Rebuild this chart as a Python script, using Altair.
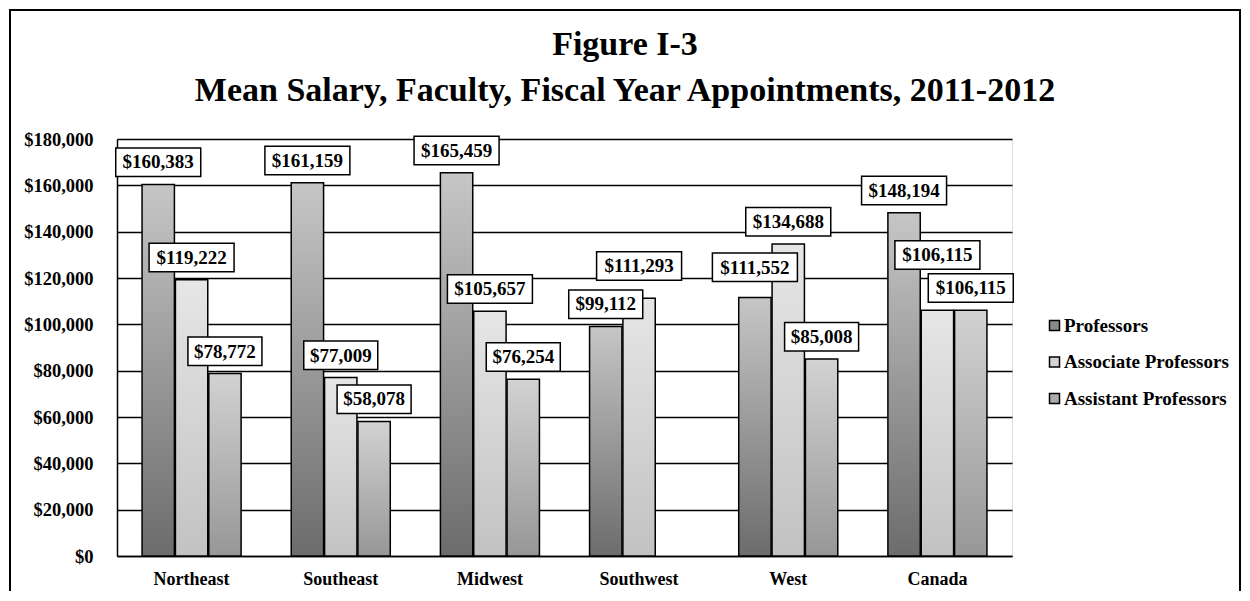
import altair as alt
import pandas as pd

regions = ["Northeast", "Southeast", "Midwest", "Southwest", "West", "Canada"]
series_names = ["Professors", "Associate Professors", "Assistant Professors"]
professors = [160383, 161159, 165459, 99112, 111552, 148194]
associate = [119222, 77009, 105657, 111293, 134688, 106115]
assistant = [78772, 58078, 76254, None, 85008, 106115]
y_ticks = [0, 20000, 40000, 60000, 80000, 100000, 120000, 140000, 160000, 180000]
title_lines = ["Figure I-3", "Mean Salary, Faculty, Fiscal Year Appointments, 2011-2012"]

rows = []
for name, vals in zip(series_names, [professors, associate, assistant]):
    for r, v in zip(regions, vals):
        if v is not None:
            rows.append({"region": r, "series": name, "value": v})
df = pd.DataFrame(rows)

FONT = "Liberation Serif"
W, H = 895, 417
YMAX = 180000
K = YMAX / H  # data units per pixel

x_enc = alt.X("region:N", sort=regions,
              scale=alt.Scale(domain=regions, paddingInner=0.336, paddingOuter=0.168),
              axis=alt.Axis(title=None, labelAngle=0, labelFont=FONT, labelFontSize=18,
                            labelFontWeight="bold", labelColor="black", labelPadding=14,
                            ticks=False, domain=True, domainColor="black", domainWidth=1.5,
                            grid=False))
xo_enc = alt.XOffset("series:N", sort=series_names,
                     scale=alt.Scale(domain=series_names, paddingInner=0.03))
y_scale = alt.Scale(domain=[0, YMAX], nice=False, zero=True)
yax = alt.Axis(title=None, values=y_ticks, format="$,.0f", labelFont=FONT,
               labelFontSize=18.5, labelFontWeight="bold", labelColor="black",
               labelPadding=24, ticks=False, domain=True, domainColor="black",
               domainWidth=1.5, grid=True, gridColor="black", gridWidth=1.5,
               gridOpacity=1)

base = alt.Chart(df)


def grad(bottom, top):
    return alt.LinearGradient(gradient="linear",
                              stops=[alt.GradientStop(color=bottom, offset=0),
                                     alt.GradientStop(color=top, offset=1)],
                              x1=0, x2=0, y1=1, y2=0)


colors = {
    "Professors": ("#6c6c6c", "#c6c6c6"),
    "Associate Professors": ("#c2c2c2", "#e6e6e6"),
    "Assistant Professors": ("#979797", "#d2d2d2"),
}

bar_layers = []
for s in series_names:
    b, t = colors[s]
    layer = base.transform_filter(alt.datum.series == s).mark_bar(
        fill=grad(b, t), stroke="black", strokeWidth=1.5
    ).encode(
        x=x_enc, xOffset=xo_enc,
        y=alt.Y("value:Q", scale=y_scale, axis=yax),
    )
    bar_layers.append(layer)

lift_expr = ("datum.region == 'Canada' && datum.series == 'Associate Professors' ? 33 : "
             "datum.region == 'Southwest' && datum.series == 'Associate Professors' ? 10 : "
             "datum.region == 'West' && datum.series == 'Professors' ? 8 : 0")

lab = base.transform_calculate(
    lift=lift_expr
).transform_calculate(
    box_lo=f"datum.value + (8 + datum.lift) * {K}",
    box_hi=f"datum.value + (36.5 + datum.lift) * {K}",
    text_y=f"datum.value + (22 + datum.lift) * {K}",
    label="format(datum.value, '$,.0f')",
)

box_wide = lab.transform_filter("datum.value >= 100000").mark_bar(
    width=85, fill="white", stroke="black", strokeWidth=1.5
).encode(x=x_enc, xOffset=xo_enc,
         y=alt.Y("box_hi:Q", scale=y_scale, axis=yax), y2="box_lo:Q")
box_narrow = lab.transform_filter("datum.value < 100000").mark_bar(
    width=74, fill="white", stroke="black", strokeWidth=1.5
).encode(x=x_enc, xOffset=xo_enc,
         y=alt.Y("box_hi:Q", scale=y_scale, axis=yax), y2="box_lo:Q")
texts = lab.mark_text(font=FONT, fontSize=19, fontWeight="bold", color="black",
                      baseline="middle", align="center").encode(
    x=x_enc, xOffset=xo_enc,
    y=alt.Y("text_y:Q", scale=y_scale, axis=yax), text="label:N")

legend_layer = alt.Chart(pd.DataFrame({"series": series_names, "value": [0, 0, 0],
                                       "region": [regions[0]] * 3})).mark_square(
    size=0, opacity=0
).encode(
    x=x_enc,
    y=alt.Y("value:Q", scale=y_scale, axis=yax),
    color=alt.Color("series:N", sort=series_names,
                    scale=alt.Scale(domain=series_names,
                                    range=["#8a8a8a", "#d4d4d4", "#ababab"]),
                    legend=alt.Legend(title=None, orient="none", legendX=928, legendY=177,
                                      symbolType="square", symbolSize=100,
                                      symbolStrokeColor="black", symbolStrokeWidth=1.5,
                                      symbolOpacity=1, labelFont=FONT, labelFontSize=19,
                                      labelFontWeight="bold", labelColor="black",
                                      labelLimit=400, labelOffset=0, rowPadding=16.5,
                                      padding=0)),
)

title_df = pd.DataFrame({"line": title_lines, "row": [0, 1]})
title_l1 = alt.Chart(title_df).transform_filter("datum.row == 0").mark_text(
    font=FONT, fontSize=34, fontWeight="bold", color="black", align="center",
    baseline="middle").encode(x=alt.value(508), y=alt.value(-94), text="line:N")
title_l2 = alt.Chart(title_df).transform_filter("datum.row == 1").mark_text(
    font=FONT, fontSize=34, fontWeight="bold", color="black", align="center",
    baseline="middle").encode(x=alt.value(508), y=alt.value(-48), text="line:N")

frame = alt.Chart(pd.DataFrame({"a": [0]})).mark_rect(
    fillOpacity=0, stroke="black", strokeWidth=2
).encode(x=alt.value(-107), x2=alt.value(1123), y=alt.value(-129), y2=alt.value(480))

chart = alt.layer(
    *bar_layers, box_wide, box_narrow, texts, legend_layer, title_l1, title_l2, frame
).properties(
    width=W, height=H,
    autosize=alt.AutoSizeParams(type="none"),
    padding={"left": 109, "top": 131, "right": 230, "bottom": 35},
).configure_view(stroke=None).configure(background="white")

chart.save("out.html", embed_options={"renderer": "svg", "actions": False})
